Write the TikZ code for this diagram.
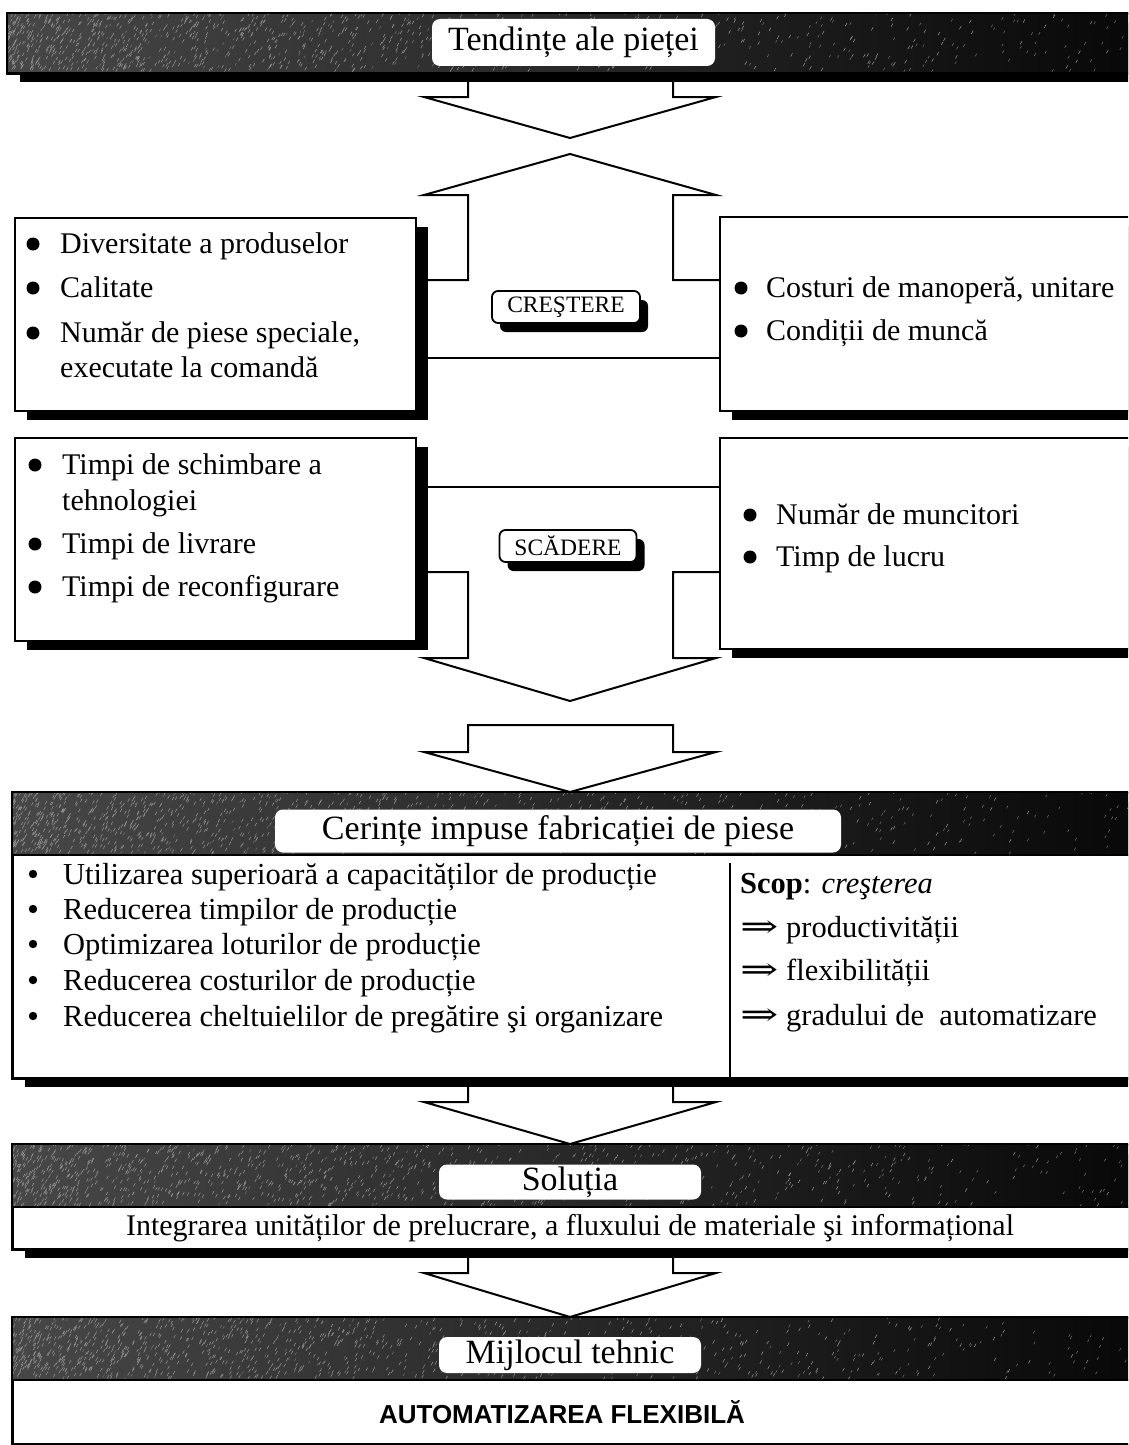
\documentclass[tikz,border=0pt]{standalone}
\usepackage{fontspec}
\setmainfont{Liberation Serif}
\newfontfamily\sansbold{Liberation Sans}
\newfontfamily\arrowfont{DejaVu Serif}
\usetikzlibrary{shadows}

\newcommand\bannerfill[4]{%
  \begin{scope}
    \clip (#1,#2) rectangle (#3,#4);
    \shade[left color=black!72, middle color=black!92, right color=black!97] (#1,#2) rectangle (#3,#4);
    \foreach \k in {1,...,900}{%
      \pgfmathsetmacro\px{#1+rnd*rnd*(#3-#1)}%
      \pgfmathsetmacro\py{#2+rnd*(#4-#2)}%
      \draw[black!40, line width=0.5pt] (\px,\py) -- ++(1.8,-3.2);
    }
    \foreach \k in {1,...,250}{%
      \pgfmathsetmacro\px{#1+rnd*(#3-#1)}%
      \pgfmathsetmacro\py{#2+rnd*(#4-#2)}%
      \draw[black!55, line width=0.5pt] (\px,\py) -- ++(1.5,-2.6);
    }
  \end{scope}}

\tikzset{
  frame/.style={draw=black, line width=2pt, fill=white, inner sep=0pt, anchor=north west},
  shad/.style={drop shadow={shadow xshift=12pt, shadow yshift=-9pt, opacity=1, fill=black}},
  lblshad/.style={drop shadow={shadow xshift=8pt, shadow yshift=-9pt, opacity=1, fill=black}},
  banlabel/.style={fill=white, rounded corners=8pt, inner sep=0pt, font=\fontsize{34}{40}\selectfont},
  tag/.style={draw=black, line width=1.8pt, fill=white, rounded corners=6pt, inner sep=0pt, font=\fontsize{23.5}{28}\selectfont},
  bt/.style={anchor=base west, inner sep=0pt, font=\fontsize{30}{36}\selectfont},
  ct/.style={anchor=base west, inner sep=0pt, font=\fontsize{30.5}{36}\selectfont},
  arr/.style={draw=black, line width=2pt, line join=miter},
}
\newcommand\imp{\scalebox{1.5}[1.05]{\arrowfont ⇒}}

\begin{document}
\begin{tikzpicture}[x=1pt,y=-1pt]
\path[use as bounding box] (0,0) rectangle (1128,1445);
\clip (0,0) rectangle (1128,1445);
\fill[white] (0,0) rectangle (1128,1445);

% ---------- top banner
\node[frame, shad, minimum width=1135, minimum height=59] (T) at (7,13) {};
\bannerfill{7}{13}{1142}{72}
\draw[line width=2pt] (T.north west) rectangle (T.south east);
\node[banlabel, minimum width=283, minimum height=47] (Tl) at (573.5,42.5) {Tendințe ale pieței};

% ---------- boxes row 1
\node[frame, shad, minimum width=401, minimum height=193] (L1) at (14,217) {};
\node[frame, shad, minimum width=430, minimum height=194] (R1) at (719,216) {};
% ---------- boxes row 2
\node[frame, shad, minimum width=401, minimum height=203] (L2) at (14,437) {};
\node[frame, shad, minimum width=430, minimum height=211] (R2) at (719,437) {};

% ---------- arrows and connectors (upper part)
\draw[arr] (T.south -| 468,0) -- (468,97) -- (424,97) -- (570,138) -- (716,97) -- (673,97) -- (T.south -| 673,0);
\draw[arr] (L1.east |- 0,280) -- (468,280) -- (468,195) -- (424,195) -- (570,154) -- (716,195) -- (673,195) -- (673,280) -- (R1.west |- 0,280);
\draw[arr] (L1.east |- 0,358) -- (R1.west |- 0,358);
\draw[arr] (L2.east |- 0,487) -- (R2.west |- 0,487);
\draw[arr] (L2.east |- 0,572) -- (468,572) -- (468,658) -- (424,658) -- (570,701) -- (716,658) -- (673,658) -- (673,572) -- (R2.west |- 0,572);

% ---------- tags
\node[tag, lblshad, minimum width=148, minimum height=32] (up) at (566,307) {CREŞTERE};
\node[tag, lblshad, minimum width=137, minimum height=32] (down) at (568,546) {SCĂDERE};

% ---------- texts row 1
\fill (33,244) circle (6.5);
\fill (33,288) circle (6.5);
\fill (33,333) circle (6.5);
\node[bt] (l1a) at (60,253) {Diversitate a produselor};
\node[bt] (l1b) at (60,297) {Calitate};
\node[bt] (l1c) at (60,342) {Număr de piese speciale,};
\node[bt] (l1d) at (60,377) {executate la comandă};
\fill (741,288) circle (6.5);
\fill (741,331) circle (6.5);
\node[bt] (r1a) at (766,297) {Costuri de manoperă, unitare};
\node[bt] (r1b) at (766,340) {Condiții de muncă};

% ---------- texts row 2
\fill (35,465) circle (6.5);
\fill (35,544) circle (6.5);
\fill (35,587) circle (6.5);
\node[bt] (l2a) at (62,474) {Timpi de schimbare a};
\node[bt] (l2b) at (62,510) {tehnologiei};
\node[bt] (l2c) at (62,553) {Timpi de livrare};
\node[bt] (l2d) at (62,596) {Timpi de reconfigurare};
\fill (750,515) circle (6.5);
\fill (750,557) circle (6.5);
\node[bt] (r2a) at (776,524) {Număr de muncitori};
\node[bt] (r2b) at (776,566) {Timp de lucru};

% ---------- Cerinte box
\node[frame, shad, minimum width=1130, minimum height=285] (C) at (12,792) {};
\bannerfill{12}{792}{1142}{855}
\draw[line width=2pt] (C.north west) rectangle (C.south east);
\draw[line width=2pt] (C.west |- 0,855) -- (C.east |- 0,855);
\node[banlabel, minimum width=566, minimum height=43] (Cl) at (558,831) {Cerințe impuse fabricației de piese};
\draw[arr] (468,725) -- (673,725) -- (673,752) -- (716,752) -- (C.north -| 570,0) -- (424,752) -- (468,752) -- cycle;
\draw[line width=1.5pt] (C.south -| 730,0) -- (730,863);
\foreach \yy in {884,919,954,990,1026}{\fill (33,\yy-10) circle (4.2);}
\node[ct] (c1) at (63,884) {Utilizarea superioară a capacităților de producție};
\node[ct] (c2) at (63,919) {Reducerea timpilor de producție};
\node[ct] (c3) at (63,954) {Optimizarea loturilor de producție};
\node[ct] (c4) at (63,990) {Reducerea costurilor de producție};
\node[ct] (c5) at (63,1026) {Reducerea cheltuielilor de pregătire şi organizare};
\node[ct] (s0) at (740,893) {\textbf{Scop}: \textit{creşterea}};
\node[ct] (s1) at (740,937) {\imp\ productivității};
\node[ct] (s2) at (740,980) {\imp\ flexibilității};
\node[ct] (s3) at (740,1025) {\imp\ gradului de~ automatizare};

% ---------- Solutia box
\node[frame, shad, minimum width=1130, minimum height=104] (S) at (12,1144) {};
\bannerfill{12}{1144}{1142}{1207}
\draw[line width=2pt] (S.north west) rectangle (S.south east);
\draw[line width=2pt] (S.west |- 0,1207) -- (S.east |- 0,1207);
\node[banlabel, minimum width=262, minimum height=35] (Sl) at (570,1182) {Soluția};
\node[anchor=base, inner sep=0pt, font=\fontsize{30}{36}\selectfont] (St) at (570,1235) {Integrarea unităților de prelucrare, a fluxului de materiale şi informațional};
\draw[arr] (C.south -| 468,0) -- (468,1102) -- (424,1102) -- (S.north -| 570,0) -- (716,1102) -- (673,1102) -- (C.south -| 673,0);

% ---------- Mijlocul box
\node[frame, minimum width=1130, minimum height=126] (M) at (12,1317) {};
\bannerfill{12}{1317}{1142}{1380}
\draw[line width=2pt] (M.north west) rectangle (M.south east);
\draw[line width=2pt] (M.west |- 0,1380) -- (M.east |- 0,1380);
\node[banlabel, minimum width=262, minimum height=36] (Ml) at (570,1355) {Mijlocul tehnic};
\node[inner sep=0pt, font=\sansbold\bfseries\fontsize{26}{30}\selectfont] (Mt) at (562,1412) {AUTOMATIZAREA FLEXIBILĂ};
\draw[arr] (S.south -| 468,0) -- (468,1273) -- (424,1273) -- (M.north -| 570,0) -- (716,1273) -- (673,1273) -- (S.south -| 673,0);
\end{tikzpicture}
\end{document}
